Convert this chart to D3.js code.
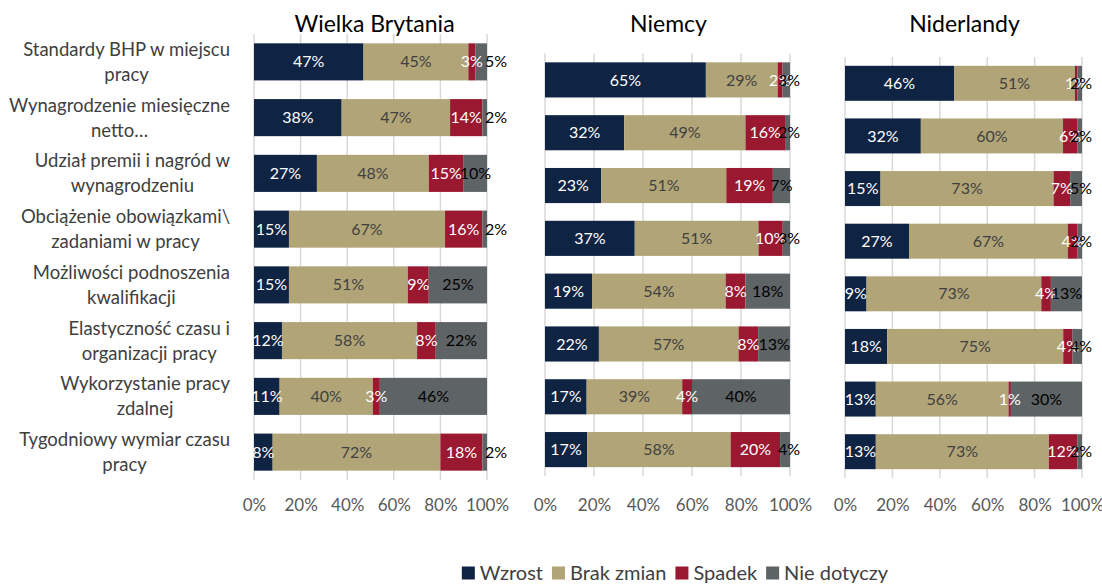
<!DOCTYPE html>
<html>
<head>
<meta charset="utf-8">
<script src="https://cdn.jsdelivr.net/npm/d3@7"></script>
<style>
  html, body { margin: 0; padding: 0; background: #fff; }
  svg { display: block; font-family: "Lato", "Open Sans", sans-serif; }
</style>
</head>
<body>
<svg id="chart" width="1102" height="585"></svg>
<script>
// Survey items (one row per item, same order in every panel)
const categories = [
  "Standardy BHP w miejscu pracy",
  "Wynagrodzenie miesięczne netto…",
  "Udział premii i nagród w wynagrodzeniu",
  "Obciążenie obowiązkami\\ zadaniami w pracy",
  "Możliwości podnoszenia kwalifikacji",
  "Elastyczność czasu i organizacji pracy",
  "Wykorzystanie pracy zdalnej",
  "Tygodniowy wymiar czasu pracy"
];
// Wrapped form of the item names as shown on the axis
const categoryLines = [
  ["Standardy BHP w miejscu", "pracy"],
  ["Wynagrodzenie miesięczne", "netto…"],
  ["Udział premii i nagród w", "wynagrodzeniu"],
  ["Obciążenie obowiązkami\\", "zadaniami w pracy"],
  ["Możliwości podnoszenia", "kwalifikacji"],
  ["Elastyczność czasu i", "organizacji pracy"],
  ["Wykorzystanie pracy", "zdalnej"],
  ["Tygodniowy wymiar czasu", "pracy"]
];

const seriesNames = ["Wzrost", "Brak zmian", "Spadek", "Nie dotyczy"];
const countries = ["Wielka Brytania", "Niemcy", "Niderlandy"];
const tickValues = [0, 0.2, 0.4, 0.6, 0.8, 1];

// Wielka Brytania (%)
const ukWzrost = [47, 38, 27, 15, 15, 12, 11, 8];
const ukBrakZmian = [45, 47, 48, 67, 51, 58, 40, 72];
const ukSpadek = [3, 14, 15, 16, 9, 8, 3, 18];
const ukNieDotyczy = [5, 2, 10, 2, 25, 22, 46, 2];

// Niemcy (%)
const deWzrost = [65, 32, 23, 37, 19, 22, 17, 17];
const deBrakZmian = [29, 49, 51, 51, 54, 57, 39, 58];
const deSpadek = [2, 16, 19, 10, 8, 8, 4, 20];
const deNieDotyczy = [3, 2, 7, 3, 18, 13, 40, 4];

// Niderlandy (%)
const nlWzrost = [46, 32, 15, 27, 9, 18, 13, 13];
const nlBrakZmian = [51, 60, 73, 67, 73, 75, 56, 73];
const nlSpadek = [1, 6, 7, 4, 4, 4, 1, 12];
const nlNieDotyczy = [2, 2, 5, 2, 13, 4, 30, 2];

const countrySeries = [
  [ukWzrost, ukBrakZmian, ukSpadek, ukNieDotyczy],
  [deWzrost, deBrakZmian, deSpadek, deNieDotyczy],
  [nlWzrost, nlBrakZmian, nlSpadek, nlNieDotyczy]
];

// ---- styling / layout ----
const colors = ["#0f2343", "#b1a578", "#9a1830", "#5e6366"];
const labelColors = ["#ffffff", "#404040", "#ffffff", "#000000"];
const panelLayout = [
  { x0: 254, x1: 487, y0: 34, y1: 480, overflow: "start" },
  { x0: 545, x1: 790, y0: 53.5, y1: 476, overflow: "middle" },
  { x0: 845, x1: 1082, y0: 57, y1: 478, overflow: "middle" }
];
const bandPadding = 0.335;

const svg = d3.select("#chart");
const fmt = d3.format(".0%");

countries.forEach((country, ci) => {
  const L = panelLayout[ci];
  const rows = categories.map((c, i) => {
    const r = { category: c };
    seriesNames.forEach((s, si) => { r[s] = countrySeries[ci][si][i]; });
    return r;
  });
  const stacked = d3.stack().keys(seriesNames).offset(d3.stackOffsetExpand)(rows);

  const x = d3.scaleLinear().domain([0, 1]).range([L.x0, L.x1]);
  const y = d3.scaleBand().domain(categories).range([L.y0, L.y1]).paddingInner(bandPadding).paddingOuter(bandPadding / 2);

  const g = svg.append("g").attr("class", "panel");

  // vertical gridlines
  g.append("g").selectAll("line").data(tickValues).join("line")
    .attr("x1", d => x(d)).attr("x2", d => x(d))
    .attr("y1", L.y0).attr("y2", L.y1)
    .attr("stroke", "#d9d9d9").attr("stroke-width", 1.5);

  // stacked bars
  const layers = g.append("g").selectAll("g").data(stacked).join("g")
    .attr("fill", (d, i) => colors[i]);
  layers.selectAll("rect").data(d => d).join("rect")
    .attr("x", d => x(d[0]))
    .attr("y", d => y(d.data.category))
    .attr("width", d => x(d[1]) - x(d[0]))
    .attr("height", y.bandwidth());

  // value labels
  stacked.forEach((layer, si) => {
    const key = layer.key;
    g.append("g").selectAll("text").data(layer).join("text")
      .attr("x", d => (x(d[0]) + x(d[1])) / 2)
      .attr("y", d => y(d.data.category) + y.bandwidth() / 2)
      .attr("dy", "0.35em")
      .attr("text-anchor", "middle")
      .attr("fill", labelColors[si])
      .attr("font-size", 16)
      .text(d => d.data[key] + "%")
      .each(function (d) {
        // very narrow trailing segment: move label to the bar end
        if (si === seriesNames.length - 1) {
          const segW = x(d[1]) - x(d[0]);
          if (segW < 15) {
            if (L.overflow === "start") {
              d3.select(this).attr("x", x(1) - 2).attr("text-anchor", "start");
            } else {
              d3.select(this).attr("x", x(1) - 1);
            }
          }
        }
      });
  });

  // bottom axis labels
  const axis = d3.axisBottom(x).tickValues(tickValues).tickFormat(fmt).tickSize(0).tickPadding(0);
  const ax = g.append("g").attr("transform", `translate(0, 511)`).call(axis);
  ax.select(".domain").remove();
  ax.selectAll("text").attr("font-size", 17).attr("fill", "#595959")
    .attr("font-family", "Lato, 'Open Sans', sans-serif").attr("dy", 0);

  // panel title
  g.append("text")
    .attr("x", (L.x0 + L.x1) / 2 + (ci === 0 ? 4 : 1))
    .attr("y", 32)
    .attr("text-anchor", "middle")
    .attr("font-size", 23)
    .attr("fill", "#000")
    .text(country);

  // item labels on the first panel
  if (ci === 0) {
    const lg = svg.append("g").attr("class", "cat-labels");
    categories.forEach((c, i) => {
      const cy = y(c) + y.bandwidth() / 2;
      const grp = lg.append("g");
      const texts = grp.selectAll("text").data(categoryLines[i]).join("text")
        .attr("y", (d, k) => cy + (k - (categoryLines[i].length - 1) / 2) * 25)
        .attr("dy", "0.35em")
        .attr("text-anchor", "middle")
        .attr("font-size", 18.5)
        .attr("fill", "#404040")
        .text(d => d);
      let maxW = 0;
      texts.each(function () { maxW = Math.max(maxW, this.getComputedTextLength()); });
      texts.attr("x", 230 - maxW / 2);
    });
  }
});

// legend
const legend = svg.append("g").attr("class", "legend");
const items = legend.selectAll("g").data(seriesNames).join("g");
items.append("rect").attr("width", 13).attr("height", 13).attr("y", -6.5)
  .attr("fill", (d, i) => colors[i]);
items.append("text").attr("x", 18).attr("dy", "0.35em")
  .attr("font-size", 20).attr("fill", "#404040").text(d => d);
let cursor = 0;
const positions = [];
items.each(function () {
  positions.push(cursor);
  const w = d3.select(this).select("text").node().getComputedTextLength();
  cursor += 18 + w + 9;
});
const totalW = cursor - 9;
const legendLeft = 675 - totalW / 2;
items.attr("transform", (d, i) => `translate(${legendLeft + positions[i]}, 573)`);
</script>
</body>
</html>
